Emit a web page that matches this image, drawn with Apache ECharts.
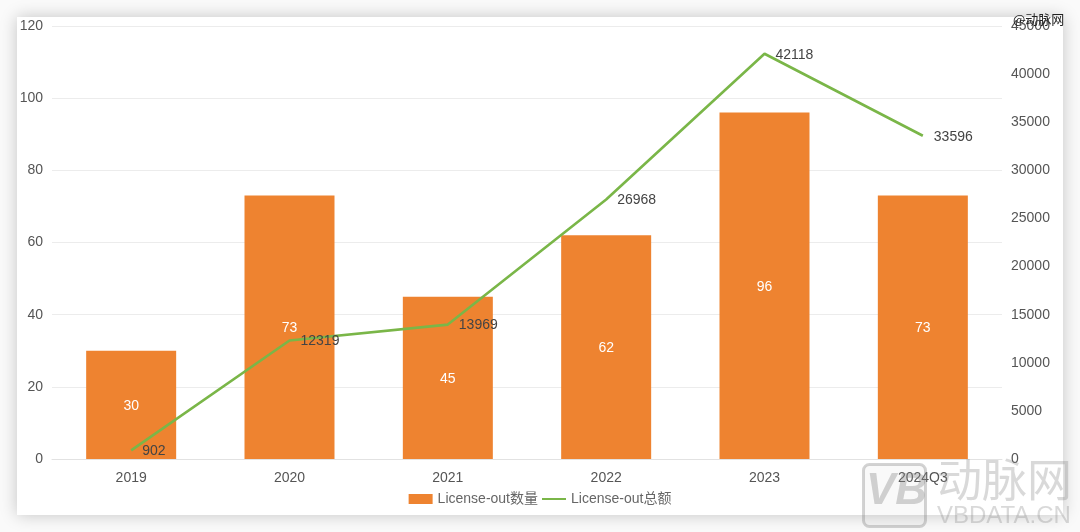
<!DOCTYPE html>
<html>
<head>
<meta charset="utf-8">
<style>
    html, body { margin: 0; padding: 0; width: 1080px; height: 532px; background: #fafafa; overflow: hidden; }
    #card { position: absolute; left: 17px; top: 17px; width: 1046px; height: 498px; background: #fff; box-shadow: 0 0 16px rgba(0,0,0,0.22); }
    #main { position: absolute; left: 0; top: 0; width: 1080px; height: 532px; }
</style>
<script src="https://cdn.jsdelivr.net/npm/echarts@6/dist/echarts.min.js"></script>
</head>
<body>
<div id="card"></div>
<div id="main"></div>
<script>
const years = ['2019', '2020', '2021', '2022', '2023', '2024Q3'];
const dealCount = [30, 73, 45, 62, 96, 73];
const dealTotal = [902, 12319, 13969, 26968, 42118, 33596];

const font = '"Liberation Sans", "Noto Sans CJK SC", sans-serif';
const chart = echarts.init(document.getElementById('main'));

var option = {
    animation: false,
    textStyle: { fontFamily: font },
    legend: {
        bottom: 21,
        left: 'center',
        itemGap: 3,
        itemWidth: 24,
        itemHeight: 10,
        textStyle: { color: '#666', fontSize: 14, fontFamily: font },
        data: [
            { name: 'License-out数量', icon: 'rect' },
            { name: 'License-out总额', itemStyle: { opacity: 0 } }
        ]
    },
    grid: { left: 52, right: 78, top: 26, bottom: 73 },
    xAxis: {
        type: 'category',
        data: years,
        axisTick: { show: false },
        axisLine: { lineStyle: { color: '#e2e2e2' } },
        axisLabel: { color: '#555', fontSize: 14, margin: 12, fontFamily: font }
    },
    yAxis: [
        {
            type: 'value',
            min: 0,
            max: 120,
            interval: 20,
            axisLabel: { color: '#555', fontSize: 14, margin: 9, padding: [4, 0, 0, 0], fontFamily: font },
            splitLine: { lineStyle: { color: '#ececec' } }
        },
        {
            type: 'value',
            min: 0,
            max: 45000,
            interval: 5000,
            axisLabel: {
                color: '#555',
                fontSize: 14,
                margin: 9,
                padding: [4, 0, 0, 0],
                fontFamily: font,
                formatter: v => String(v)
            },
            splitLine: { show: false }
        }
    ],
    series: [
        {
            name: 'License-out数量',
            type: 'bar',
            barWidth: 90,
            data: dealCount,
            itemStyle: { color: '#ee8330' },
            label: { show: true, position: 'inside', offset: [0, 1], color: '#fff', fontSize: 14, fontFamily: font }
        },
        {
            name: 'License-out总额',
            type: 'line',
            yAxisIndex: 1,
            data: dealTotal,
            symbol: 'circle',
            symbolSize: 0,
            lineStyle: { color: '#7ab648', width: 2.6 },
            itemStyle: { color: '#7ab648' },
            label: {
                show: true,
                position: 'right',
                distance: 10,
                offset: [1, 1],
                color: '#444',
                fontSize: 14,
                fontFamily: font,
                formatter: p => String(p.value)
            }
        }
    ],
    graphic: [
        // site marks from the screenshot
        { type: 'text', left: 1013, top: 13, z: 100, style: { text: '@动脉网', fill: '#222', font: '13px "Noto Sans CJK SC"' } },
        { type: 'rect', left: 862, top: 463, z: 100, shape: { width: 62, height: 62, r: 6 }, style: { fill: 'rgba(160,160,160,0.06)', stroke: 'rgba(130,130,130,0.35)', lineWidth: 3 } },
        { type: 'text', left: 866, top: 470, z: 100, style: { text: 'VB', fill: 'rgba(130,130,130,0.35)', font: 'italic bold 44px "Liberation Sans"' } },
        { type: 'text', left: 937, top: 457, z: 100, style: { text: '动脉网', fill: 'rgba(130,130,130,0.3)', font: '45px "Noto Sans CJK SC"' } },
        { type: 'text', left: 937, top: 504, z: 100, style: { text: 'VBDATA.CN', fill: 'rgba(130,130,130,0.3)', font: '24px "Liberation Sans"' } }
    ]
};

chart.setOption(option);
</script>
</body>
</html>
